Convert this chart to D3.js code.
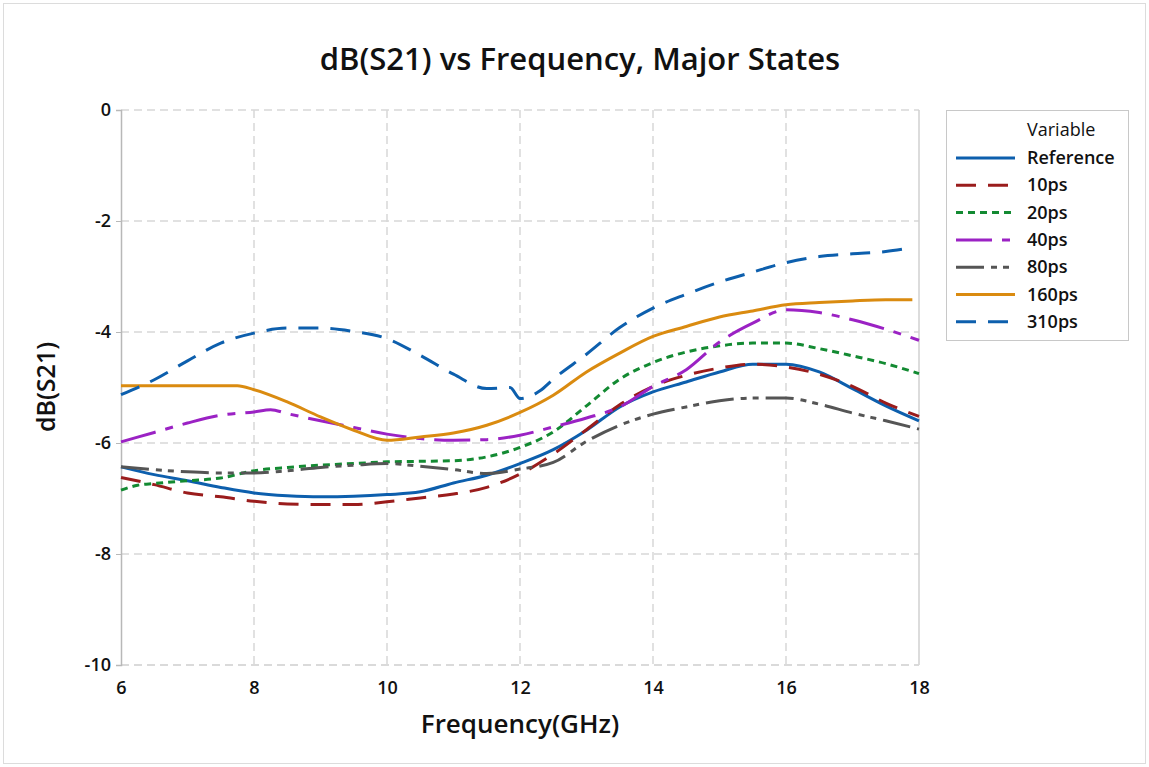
<!DOCTYPE html>
<html>
<head>
<meta charset="utf-8">
<title>dB(S21) vs Frequency</title>
<script src="https://cdn.jsdelivr.net/npm/d3@7"></script>
<style>
  html, body { margin: 0; padding: 0; background: #fff; }
  svg text { font-family: "Open Sans", "Noto Sans", sans-serif; fill: #111; }
</style>
</head>
<body>
<div id="chart"></div>
<script>
(function() {
  'use strict';

  var
    xTicks = [6, 8, 10, 12, 14, 16, 18],
    yTicks = [0, -2, -4, -6, -8, -10],

    reference = [[6,-6.43],[6.5,-6.57],[7,-6.68],[7.5,-6.8],[8,-6.9],[8.5,-6.95],[9,-6.97],[9.5,-6.96],
      [10,-6.93],[10.5,-6.88],[11,-6.72],[11.5,-6.58],[12,-6.37],[12.5,-6.12],[13,-5.77],[13.5,-5.35],
      [14,-5.08],[14.5,-4.9],[15,-4.72],[15.5,-4.58],[16,-4.58],[16.5,-4.72],[17,-5.02],[17.5,-5.33],[18,-5.6]],

    ps10 = [[6,-6.62],[6.5,-6.75],[7,-6.9],[7.5,-6.97],[8,-7.05],[8.5,-7.1],[9,-7.11],[9.5,-7.11],
      [10,-7.06],[10.5,-6.99],[11,-6.92],[11.5,-6.8],[12,-6.56],[12.5,-6.2],[13,-5.76],[13.5,-5.31],
      [14,-4.98],[14.5,-4.78],[15,-4.65],[15.5,-4.58],[16,-4.63],[16.5,-4.76],[17,-4.98],[17.5,-5.28],[18,-5.52]],

    ps20 = [[6,-6.85],[6.25,-6.76],[6.5,-6.73],[7,-6.68],[7.5,-6.63],[8,-6.5],[8.5,-6.44],[9,-6.4],
      [9.5,-6.37],[10,-6.34],[10.5,-6.33],[11,-6.32],[11.5,-6.25],[12,-6.08],[12.5,-5.8],[13,-5.33],
      [13.5,-4.85],[14,-4.55],[14.5,-4.36],[15,-4.25],[15.5,-4.2],[16,-4.2],[16.5,-4.3],[17,-4.43],[17.5,-4.57],[18,-4.75]],

    ps40 = [[6,-5.98],[6.5,-5.81],[7,-5.64],[7.5,-5.5],[8,-5.44],[8.25,-5.4],[8.5,-5.47],[9,-5.6],
      [9.5,-5.72],[10,-5.84],[10.5,-5.92],[11,-5.95],[11.5,-5.94],[12,-5.86],[12.5,-5.71],[13,-5.55],
      [13.5,-5.35],[14,-4.98],[14.5,-4.68],[15,-4.18],[15.5,-3.84],[16,-3.6],[16.5,-3.65],[17,-3.78],[17.5,-3.95],[18,-4.15]],

    ps80 = [[6,-6.43],[6.5,-6.48],[7,-6.52],[7.5,-6.54],[8,-6.54],[8.5,-6.5],[9,-6.44],[9.5,-6.4],
      [10,-6.37],[10.5,-6.42],[11,-6.48],[11.5,-6.55],[12,-6.47],[12.5,-6.35],[13,-5.97],[13.5,-5.68],
      [14,-5.48],[14.5,-5.35],[15,-5.24],[15.5,-5.19],[16,-5.19],[16.5,-5.3],[17,-5.46],[17.5,-5.6],[18,-5.75]],

    ps160 = [[6,-4.97],[6.5,-4.97],[7,-4.97],[7.5,-4.97],[7.75,-4.97],[8,-5.04],[8.5,-5.26],[9,-5.53],
      [9.5,-5.77],[10,-5.95],[10.5,-5.89],[11,-5.82],[11.5,-5.68],[12,-5.45],[12.5,-5.14],[13,-4.72],
      [13.5,-4.38],[14,-4.08],[14.5,-3.9],[15,-3.73],[15.5,-3.62],[16,-3.51],[16.5,-3.47],[17,-3.44],[17.5,-3.42],[17.9,-3.42]],

    ps310 = [[6,-5.13],[6.5,-4.86],[7,-4.52],[7.5,-4.2],[8,-4.02],[8.5,-3.93],[9,-3.93],[9.5,-3.99],
      [10,-4.12],[10.5,-4.42],[11,-4.76],[11.5,-5.02],[11.85,-5.0],[12,-5.2],[12.3,-5.06],[12.5,-4.85],
      [13,-4.4],[13.5,-3.92],[14,-3.57],[14.5,-3.32],[15,-3.1],[15.5,-2.92],[16,-2.75],[16.5,-2.64],
      [17,-2.59],[17.5,-2.55],[17.8,-2.5]],

    seriesNames = ['Reference', '10ps', '20ps', '40ps', '80ps', '160ps', '310ps'],
    seriesData = [reference, ps10, ps20, ps40, ps80, ps160, ps310],
    seriesColors = ['#0d5fad', '#9a1c1c', '#138a32', '#9b22c4', '#555555', '#da8b10', '#0d5fad'],
    seriesDash = ['none', '20,12', '7,5', '36,10,8,10', '28,7,6,6,6,7', 'none', '20,12'];

  var
    W = 1149, H = 767,
    M = {left: 121, top: 110},
    pw = 798, ph = 555;

  var svg = d3.select('#chart')
    .append('svg')
    .attr('width', W)
    .attr('height', H);

  svg.append('rect')
    .attr('x', 3.5).attr('y', 3.5)
    .attr('width', W - 7).attr('height', H - 7)
    .attr('fill', '#fff')
    .attr('stroke', '#dcdcdc');

  var x = d3.scaleLinear().domain([6, 18]).range([0, pw]),
      y = d3.scaleLinear().domain([-10, 0]).range([ph, 0]);

  var g = svg.append('g')
    .attr('transform', 'translate(' + M.left + ',' + M.top + ')');

  // grid
  g.append('g').selectAll('line')
    .data(xTicks.slice(1, -1))
    .enter().append('line')
    .attr('x1', function(d) { return x(d); })
    .attr('x2', function(d) { return x(d); })
    .attr('y1', 0).attr('y2', ph)
    .attr('stroke', '#d8d8d8').attr('stroke-width', 1.5)
    .attr('stroke-dasharray', '8,5');

  g.append('g').selectAll('line')
    .data(yTicks)
    .enter().append('line')
    .attr('x1', 0).attr('x2', pw)
    .attr('y1', function(d) { return y(d); })
    .attr('y2', function(d) { return y(d); })
    .attr('stroke', '#d8d8d8').attr('stroke-width', 1.5)
    .attr('stroke-dasharray', '8,5');

  g.append('line')
    .attr('x1', pw).attr('x2', pw).attr('y1', 0).attr('y2', ph)
    .attr('stroke', '#d0d0d0').attr('stroke-width', 1.5);

  // axes
  var fmt = function(d) { return String(d); };

  var xAxis = g.append('g')
    .attr('transform', 'translate(0,' + ph + ')')
    .call(d3.axisBottom(x).tickValues(xTicks).tickFormat(fmt).tickSize(0).tickPadding(16));

  var yAxis = g.append('g')
    .call(d3.axisLeft(y).tickValues(yTicks).tickFormat(fmt).tickSize(5).tickPadding(5));

  [xAxis, yAxis].forEach(function(ax) {
    ax.select('.domain').attr('stroke', '#b8b8b8').attr('stroke-width', 1.5);
    ax.selectAll('.tick line').attr('stroke', '#b8b8b8');
    ax.selectAll('text')
      .attr('font-size', 18)
      .attr('font-weight', 600)
      .style('font-family', '"Open Sans", sans-serif')
      .attr('fill', '#111');
  });
  xAxis.select('.domain').remove();
  xAxis.append('line')
    .attr('x1', 0).attr('x2', pw)
    .attr('stroke', '#d8d8d8').attr('stroke-width', 1.5)
    .attr('stroke-dasharray', '8,5');

  // series lines
  var line = d3.line()
    .x(function(d) { return x(d[0]); })
    .y(function(d) { return y(d[1]); })
    .curve(d3.curveMonotoneX);

  g.append('g').selectAll('path')
    .data(seriesData)
    .enter().append('path')
    .attr('d', line)
    .attr('fill', 'none')
    .attr('stroke', function(d, i) { return seriesColors[i]; })
    .attr('stroke-width', 3)
    .attr('stroke-dasharray', function(d, i) { return seriesDash[i]; });

  // titles
  svg.append('text')
    .attr('x', 580).attr('y', 70)
    .attr('text-anchor', 'middle')
    .attr('font-size', 31)
    .attr('font-weight', 600)
    .text('dB(S21) vs Frequency, Major States');

  svg.append('text')
    .attr('x', 520).attr('y', 733)
    .attr('text-anchor', 'middle')
    .attr('font-size', 26)
    .attr('font-weight', 600)
    .text('Frequency(GHz)');

  svg.append('text')
    .attr('transform', 'translate(55,387) rotate(-90)')
    .attr('text-anchor', 'middle')
    .attr('font-size', 25)
    .attr('font-weight', 600)
    .text('dB(S21)');

  // legend
  var lg = svg.append('g').attr('transform', 'translate(946,110)');

  lg.append('rect')
    .attr('x', 0.5).attr('y', 0.5)
    .attr('width', 182).attr('height', 230)
    .attr('fill', '#fff')
    .attr('stroke', '#c8c8c8');

  lg.append('text')
    .attr('x', 81).attr('y', 26)
    .attr('font-size', 18)
    .attr('font-weight', 500)
    .text('Variable');

  var items = lg.selectAll('.item')
    .data(seriesNames)
    .enter().append('g')
    .attr('class', 'item')
    .attr('transform', function(d, i) { return 'translate(0,' + (48 + i * 27.3) + ')'; });

  items.append('line')
    .attr('x1', 10).attr('x2', 69)
    .attr('stroke', function(d, i) { return seriesColors[i]; })
    .attr('stroke-width', 3)
    .attr('stroke-dasharray', function(d, i) { return seriesDash[i]; });

  items.append('text')
    .attr('x', 81).attr('y', 6)
    .attr('font-size', 18)
    .attr('font-weight', 600)
    .text(function(d) { return d; });
})();
</script>
</body>
</html>
